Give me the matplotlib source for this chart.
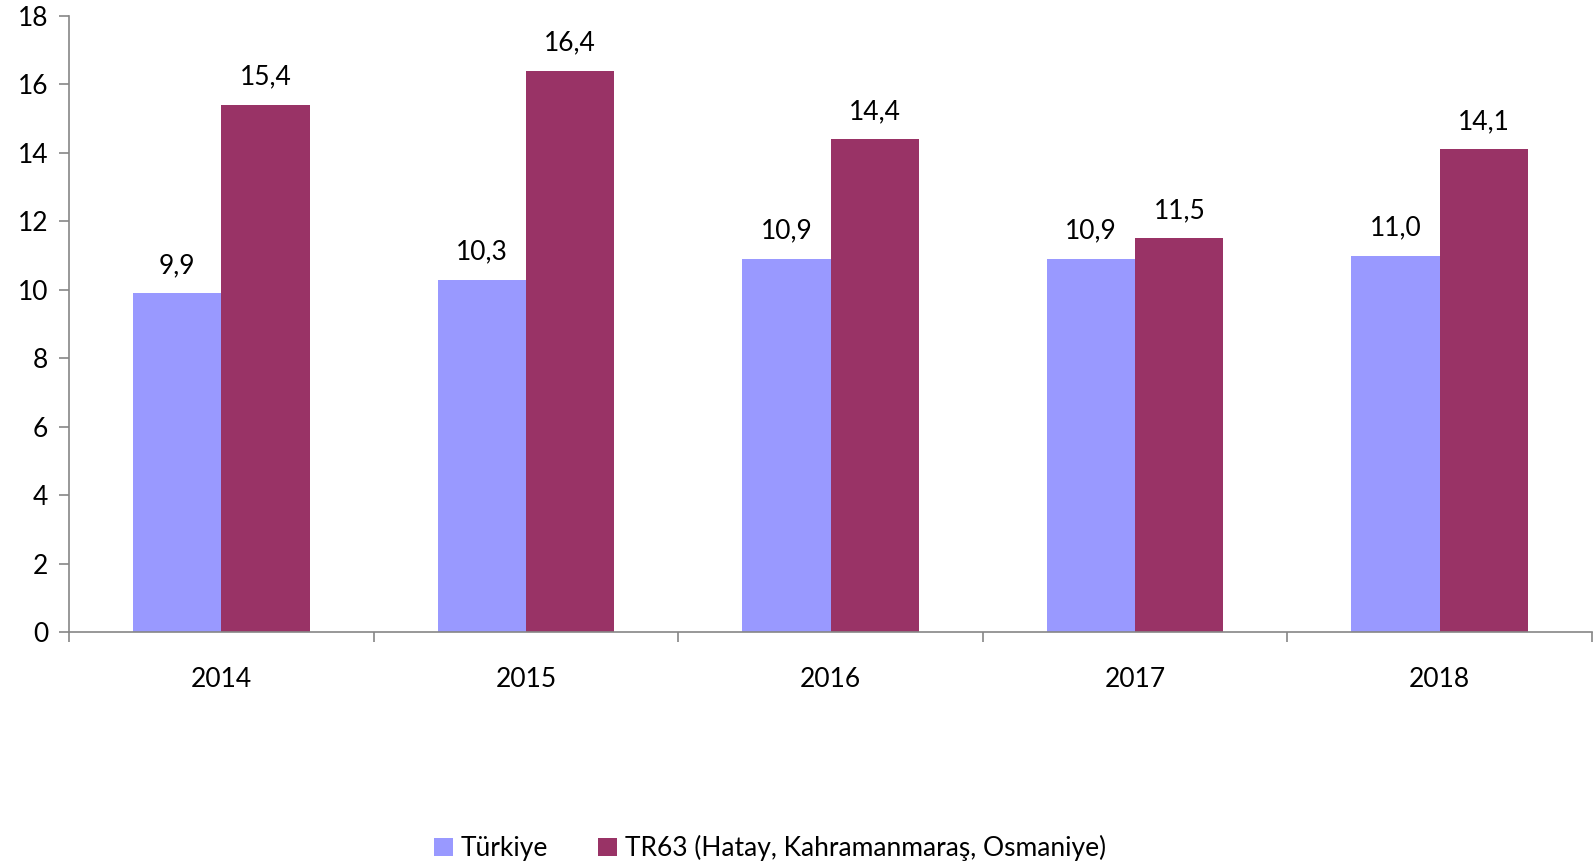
import matplotlib
matplotlib.use("Agg")
import matplotlib.pyplot as plt
import numpy as np

years = ["2014", "2015", "2016", "2017", "2018"]
turkiye = [9.9, 10.3, 10.9, 10.9, 11.0]
tr63 = [15.4, 16.4, 14.4, 11.5, 14.1]
series_names = ["Türkiye", "TR63 (Hatay, Kahramanmaraş, Osmaniye)"]
colors = ["#9999FF", "#993366"]

plt.rcParams['font.family'] = ['Lato', 'DejaVu Sans']

W, H = 1595, 868
fs = 19
fig = plt.figure(figsize=(W/100, H/100), dpi=100)
ax = fig.add_axes([69/W, 1-632/H, (1592-69)/W, (632-16)/H])

x = np.arange(len(years))
bw = 0.29
b1 = ax.bar(x - bw/2, turkiye, bw, color=colors[0], label=series_names[0], zorder=2)
b2 = ax.bar(x + bw/2, tr63, bw, color=colors[1], label=series_names[1], zorder=2)

for bars, vals in ((b1, turkiye), (b2, tr63)):
    for r, v in zip(bars, vals):
        ax.annotate(f"{v:.1f}".replace(".", ","), (r.get_x()+r.get_width()/2, v),
                    xytext=(0, 11), textcoords="offset points", ha="center", va="bottom",
                    fontsize=fs, color="black")

ax.set_xlim(-0.5, len(years)-0.5)
ax.set_ylim(0, 18)
ax.set_yticks(range(0, 19, 2))
ax.set_yticklabels([str(v) for v in range(0, 19, 2)], fontsize=fs)
ax.set_xticks(x)
ax.set_xticklabels(years, fontsize=fs)
ax.set_xticks(np.arange(-0.5, len(years)), minor=True)
ax.tick_params(axis='x', which='major', length=0, pad=25)
ax.tick_params(axis='x', which='minor', length=7, width=1.2, color="#868686", direction='out')
ax.tick_params(axis='y', length=7, width=1.2, color="#868686", pad=8)

for s in ["top", "right"]:
    ax.spines[s].set_visible(False)
for s in ["left", "bottom"]:
    ax.spines[s].set_color("#868686")
    ax.spines[s].set_linewidth(1.2)

leg = fig.legend(handles=[b1, b2], labels=series_names, loc="center", bbox_to_anchor=(770/W, 1-848/H),
                 ncol=2, frameon=False, fontsize=fs, handlelength=0.7, handleheight=0.7,
                 handletextpad=0.3, columnspacing=1.9)

fig.savefig("out.png", dpi=100)
